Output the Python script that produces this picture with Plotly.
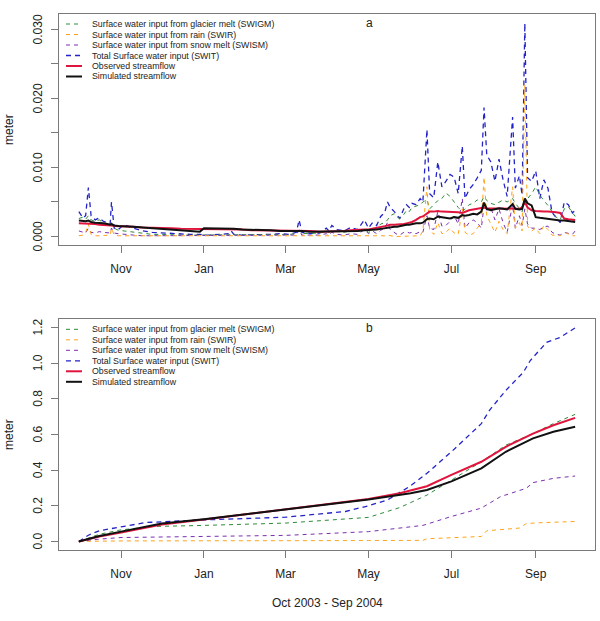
import pandas as pd
import plotly.graph_objects as go

START = pd.Timestamp("2003-10-01")

# ---------------- Panel a: daily values (meter) ----------------
day_top = [0, 3, 5, 7, 9, 12, 15, 18, 21, 23, 24, 26, 29,
           33, 40, 47, 54, 61, 68, 75, 82, 89, 92, 96, 103, 110, 112, 114, 120, 127, 134, 141, 148, 155,
           160, 162, 164, 170, 177, 182, 184, 186, 190, 195, 200, 205, 210,
           213, 216, 219, 222, 225, 227, 229, 232, 234, 236, 239, 241, 243, 245, 248, 251, 253, 256, 258, 261,
           264, 267, 270, 273, 276, 279, 282, 284, 287, 290, 293, 296, 298, 300, 303, 306, 309, 312, 315, 319,
           321, 324, 326, 328, 330, 333, 336, 339, 342, 345, 348, 351, 354, 357, 360, 363, 365]

swit_daily = [0.0036, 0.0027, 0.0030, 0.0071, 0.0030, 0.0024, 0.0027, 0.0022, 0.0020, 0.0018, 0.0050, 0.0012, 0.0010,
              0.0017, 0.0012, 0.0008, 0.0006, 0.0005, 0.0004, 0.0004, 0.0003, 0.0003, 0.0002, 0.0002, 0.0003, 0.0004, 0.0008, 0.0003, 0.0002, 0.0002, 0.0003, 0.0003, 0.0004, 0.0003,
              0.0006, 0.0024, 0.0006, 0.0004, 0.0005, 0.0012, 0.0008, 0.0016, 0.0010, 0.0008, 0.0013, 0.0010, 0.0024,
              0.0012, 0.0020, 0.0016, 0.0029, 0.0035, 0.0050, 0.0042, 0.0036, 0.0030, 0.0026, 0.0040, 0.0046, 0.0042, 0.0048, 0.0046, 0.0055, 0.0050, 0.0155, 0.0062, 0.0056,
              0.0108, 0.0072, 0.0080, 0.0090, 0.0086, 0.0062, 0.0131, 0.0055, 0.0068, 0.0075, 0.0085, 0.0096, 0.0187, 0.0118, 0.0108, 0.0080, 0.0112, 0.0082, 0.0058, 0.0173,
              0.0070, 0.0088, 0.0060, 0.0309, 0.0085, 0.0080, 0.0095, 0.0055, 0.0082, 0.0070, 0.0035, 0.0028, 0.0020, 0.0050, 0.0046, 0.0034, 0.0038]

swigm_daily = [0.0026, 0.0028, 0.0025, 0.0030, 0.0024, 0.0022, 0.0024, 0.0020, 0.0018, 0.0016, 0.0020, 0.0012, 0.0009,
               0.0008, 0.0006, 0.0005, 0.0003, 0.0003, 0.0002, 0.0002, 0.0002, 0.0002, 0.0002, 0.0002, 0.0002, 0.0002, 0.0003, 0.0002, 0.0002, 0.0002, 0.0002, 0.0003, 0.0003, 0.0003,
               0.0004, 0.0008, 0.0004, 0.0004, 0.0005, 0.0007, 0.0006, 0.0008, 0.0007, 0.0006, 0.0008, 0.0007, 0.0010,
               0.0006, 0.0010, 0.0012, 0.0018, 0.0020, 0.0024, 0.0030, 0.0033, 0.0028, 0.0026, 0.0032, 0.0038, 0.0036, 0.0042, 0.0044, 0.0046, 0.0050, 0.0053, 0.0040, 0.0046,
               0.0052, 0.0055, 0.0063, 0.0058, 0.0050, 0.0042, 0.0036, 0.0040, 0.0046, 0.0048, 0.0053, 0.0050, 0.0058, 0.0052, 0.0048, 0.0046, 0.0050, 0.0053, 0.0050, 0.0055,
               0.0048, 0.0040, 0.0036, 0.0050, 0.0055, 0.0062, 0.0072, 0.0060, 0.0052, 0.0045, 0.0036, 0.0028, 0.0024, 0.0040, 0.0043, 0.0035, 0.0029]

swir_daily = [0.0001, 0.0002, 0.0006, 0.0018, 0.0003, 0.0001, 0.0001, 0.0001, 0.0001, 0.0002, 0.0012, 0.0002, 0.0001,
              0.0001, 0.0000, 0.0000, 0.0000, 0.0000, 0.0000, 0.0000, 0.0000, 0.0000, 0.0000, 0.0000, 0.0000, 0.0000, 0.0001, 0.0000, 0.0000, 0.0000, 0.0000, 0.0000, 0.0000, 0.0000,
              0.0000, 0.0001, 0.0000, 0.0000, 0.0000, 0.0001, 0.0000, 0.0001, 0.0000, 0.0000, 0.0001, 0.0000, 0.0001,
              0.0000, 0.0001, 0.0000, 0.0001, 0.0001, 0.0002, 0.0001, 0.0000, 0.0000, 0.0000, 0.0001, 0.0001, 0.0000, 0.0001, 0.0000, 0.0001, 0.0008, 0.0072, 0.0010, 0.0003,
              0.0020, 0.0004, 0.0006, 0.0012, 0.0005, 0.0003, 0.0040, 0.0006, 0.0002, 0.0004, 0.0012, 0.0020, 0.0086, 0.0030, 0.0018, 0.0006, 0.0022, 0.0010, 0.0004, 0.0072,
              0.0012, 0.0020, 0.0008, 0.0220, 0.0015, 0.0008, 0.0012, 0.0004, 0.0016, 0.0010, 0.0002, 0.0001, 0.0001, 0.0006, 0.0003, 0.0001, 0.0001]

swism_daily = [0.0008, 0.0006, 0.0005, 0.0012, 0.0006, 0.0005, 0.0007, 0.0006, 0.0005, 0.0005, 0.0012, 0.0005, 0.0004,
               0.0003, 0.0002, 0.0001, 0.0001, 0.0001, 0.0001, 0.0001, 0.0001, 0.0001, 0.0001, 0.0001, 0.0001, 0.0001, 0.0002, 0.0001, 0.0001, 0.0001, 0.0001, 0.0001, 0.0001, 0.0001,
               0.0002, 0.0010, 0.0002, 0.0002, 0.0002, 0.0004, 0.0002, 0.0006, 0.0003, 0.0002, 0.0004, 0.0003, 0.0010,
               0.0004, 0.0008, 0.0004, 0.0009, 0.0012, 0.0020, 0.0010, 0.0006, 0.0003, 0.0002, 0.0006, 0.0007, 0.0005, 0.0006, 0.0004, 0.0007, 0.0006, 0.0030, 0.0012, 0.0010,
               0.0036, 0.0015, 0.0016, 0.0022, 0.0030, 0.0018, 0.0055, 0.0012, 0.0020, 0.0024, 0.0020, 0.0012, 0.0045, 0.0038, 0.0042, 0.0024, 0.0040, 0.0020, 0.0006, 0.0046,
               0.0012, 0.0030, 0.0016, 0.0040, 0.0018, 0.0012, 0.0012, 0.0010, 0.0014, 0.0015, 0.0006, 0.0003, 0.0002, 0.0006, 0.0005, 0.0003, 0.0008]

obs_daily = [0.0019, 0.0019, 0.0019, 0.0019, 0.0018, 0.0018, 0.0017, 0.0017, 0.0016, 0.0016, 0.0016, 0.0015, 0.0015,
             0.0015, 0.0014, 0.0013, 0.0013, 0.0012, 0.0012, 0.0011, 0.0011, 0.0011, 0.0011, 0.0011, 0.0010, 0.0010, 0.0010, 0.0010, 0.0010, 0.0009, 0.0009, 0.0009, 0.0008, 0.0008,
             0.0008, 0.0008, 0.0008, 0.0008, 0.0007, 0.0007, 0.0007, 0.0008, 0.0008, 0.0008, 0.0009, 0.0010, 0.0010,
             0.0010, 0.0011, 0.0012, 0.0013, 0.0015, 0.0016, 0.0017, 0.0017, 0.0017, 0.0018, 0.0018, 0.0019, 0.0020, 0.0021, 0.0024, 0.0028, 0.0029, 0.0034, 0.0036, 0.0036,
             0.0037, 0.0036, 0.0036, 0.0035, 0.0036, 0.0035, 0.0034, 0.0036, 0.0038, 0.0039, 0.0040, 0.0041, 0.0042, 0.0041, 0.0041, 0.0040, 0.0041, 0.0041, 0.0040, 0.0041,
             0.0040, 0.0040, 0.0042, 0.0050, 0.0042, 0.0038, 0.0037, 0.0036, 0.0036, 0.0036, 0.0036, 0.0035, 0.0034, 0.0026, 0.0025, 0.0025, 0.0024]

sim_daily = [0.0023, 0.0022, 0.0022, 0.0023, 0.0021, 0.0020, 0.0020, 0.0019, 0.0018, 0.0017, 0.0018, 0.0016, 0.0015,
             0.0015, 0.0014, 0.0013, 0.0012, 0.0011, 0.0010, 0.0009, 0.0008, 0.0007, 0.0012, 0.0012, 0.0011, 0.0011, 0.0011, 0.0011, 0.0010, 0.0010, 0.0009, 0.0009, 0.0008, 0.0008,
             0.0008, 0.0009, 0.0008, 0.0007, 0.0007, 0.0007, 0.0007, 0.0007, 0.0007, 0.0007, 0.0008, 0.0008, 0.0009,
             0.0009, 0.0010, 0.0010, 0.0011, 0.0012, 0.0013, 0.0014, 0.0014, 0.0014, 0.0015, 0.0016, 0.0017, 0.0017, 0.0018, 0.0019, 0.0019, 0.0020, 0.0025, 0.0026, 0.0025,
             0.0029, 0.0028, 0.0027, 0.0026, 0.0028, 0.0027, 0.0031, 0.0030, 0.0031, 0.0033, 0.0032, 0.0036, 0.0049, 0.0040, 0.0038, 0.0039, 0.0041, 0.0040, 0.0039, 0.0047,
             0.0040, 0.0039, 0.0040, 0.0055, 0.0048, 0.0045, 0.0028, 0.0027, 0.0026, 0.0025, 0.0025, 0.0024, 0.0023, 0.0023, 0.0022, 0.0022, 0.0021]

# ---------------- Panel b: cumulative values (meter) ----------------
swit_cum_days = [0, 7, 15, 31, 49, 92, 152, 196, 213, 227, 243, 256, 274, 296, 302, 314, 327, 332, 344, 354, 365]
swit_cum = [0, 0.035, 0.06, 0.08, 0.106, 0.121, 0.136, 0.168, 0.2, 0.233, 0.307, 0.382, 0.503, 0.661, 0.736, 0.847, 0.95, 1.015, 1.117, 1.145, 1.198]

swigm_cum_days = [0, 15, 31, 55, 92, 152, 213, 236, 256, 274, 296, 314, 334, 349, 365]
swigm_cum = [0, 0.04, 0.065, 0.084, 0.09, 0.103, 0.135, 0.19, 0.26, 0.345, 0.447, 0.54, 0.605, 0.661, 0.713]

swism_cum_days = [0, 15, 31, 92, 152, 213, 236, 253, 274, 296, 310, 329, 334, 349, 365]
swism_cum = [0, 0.013, 0.022, 0.028, 0.034, 0.055, 0.075, 0.09, 0.14, 0.187, 0.251, 0.298, 0.33, 0.354, 0.367]

swir_cum_days = [0, 31, 213, 253, 256, 274, 296, 300, 324, 329, 336, 365]
swir_cum = [0, 0.003, 0.005, 0.006, 0.015, 0.02, 0.028, 0.06, 0.075, 0.1, 0.104, 0.112]

obs_cum_days = [0, 15, 31, 61, 92, 152, 213, 236, 256, 274, 296, 314, 334, 349, 365]
obs_cum = [0, 0.027, 0.05, 0.095, 0.123, 0.18, 0.238, 0.27, 0.31, 0.373, 0.447, 0.531, 0.605, 0.652, 0.693]

sim_cum_days = [0, 15, 31, 61, 92, 152, 213, 244, 256, 274, 296, 314, 334, 349, 365]
sim_cum = [0, 0.03, 0.055, 0.10, 0.125, 0.18, 0.235, 0.27, 0.289, 0.337, 0.41, 0.503, 0.578, 0.615, 0.643]

# ---------------- Axis text ----------------
month_ticks = ["2003-11-01", "2004-01-01", "2004-03-01", "2004-05-01", "2004-07-01", "2004-09-01"]
month_labels = ["Nov", "Jan", "Mar", "May", "Jul", "Sep"]
ya_vals = [0, 0.005, 0.010, 0.015, 0.020, 0.025, 0.030]
ya_text = ["0.000", "", "0.010", "", "0.020", "", "0.030"]
yb_vals = [0, 0.2, 0.4, 0.6, 0.8, 1.0, 1.2]
yb_text = ["0.0", "0.2", "0.4", "0.6", "0.8", "1.0", "1.2"]

legend_labels = ["Surface water input from glacier melt (SWIGM)",
                 "Surface water input from rain (SWIR)",
                 "Surface water input from snow melt (SWISM)",
                 "Total Surface water input (SWIT)",
                 "Observed streamflow",
                 "Simulated streamflow"]

FONT = "Liberation Sans, Arial, sans-serif"
BOX = "#7a7a7a"
TXT = "#222222"

C_GM = "#2e8b3a"
C_R = "#ffa21a"
C_SM = "#7b2fb0"
C_T = "#2323c8"
C_OBS = "#e0143c"
C_SIM = "#111111"

styles = [  # (color, width, dash) in legend order
    (C_GM, 1, "4px,4px"),
    (C_R, 1, "4px,4px"),
    (C_SM, 1, "4px,4px"),
    (C_T, 1.3, "5px,4px"),
    (C_OBS, 2, "solid"),
    (C_SIM, 2, "solid"),
]


def dates(days):
    return START + pd.to_timedelta(days, unit="D")


fig = go.Figure()

top_map = {0: swigm_daily, 1: swir_daily, 2: swism_daily, 3: swit_daily, 4: obs_daily, 5: sim_daily}
draw_order = [3, 0, 2, 1, 4, 5]
for i in draw_order:
    c, w, d = styles[i]
    fig.add_trace(go.Scatter(x=dates(day_top), y=top_map[i], mode="lines", name=legend_labels[i],
                             line=dict(color=c, width=w, dash=d), showlegend=False,
                             xaxis="x", yaxis="y"))

bot_series = {0: (swigm_cum_days, swigm_cum), 1: (swir_cum_days, swir_cum), 2: (swism_cum_days, swism_cum),
              3: (swit_cum_days, swit_cum), 4: (obs_cum_days, obs_cum), 5: (sim_cum_days, sim_cum)}
for i in draw_order:
    c, w, d = styles[i]
    dd, vv = bot_series[i]
    fig.add_trace(go.Scatter(x=dates(dd), y=vv, mode="lines", name=legend_labels[i],
                             line=dict(color=c, width=w, dash=d), showlegend=False,
                             xaxis="x2", yaxis="y2"))

# x range: data span with 4% padding on each side (R default)
pad = pd.Timedelta(days=365 * 0.04)
xr = [START - pad, START + pd.Timedelta(days=365) + pad]

common_x = dict(type="date", range=xr, tickmode="array", tickvals=month_ticks, ticktext=month_labels,
                ticks="outside", ticklen=7, tickcolor=BOX, showline=True, linecolor=BOX, linewidth=1,
                mirror=True, showgrid=False, zeroline=False,
                tickfont=dict(family=FONT, size=12, color=TXT), ticklabelstandoff=6)
common_y = dict(ticks="outside", ticklen=7, tickcolor=BOX, showline=True, linecolor=BOX, linewidth=1,
                mirror=True, showgrid=False, zeroline=False, tickmode="array", showticklabels=False)

TOP_DOM = [0.569, 1.0]
BOT_DOM = [0.0, 0.431]

fig.update_layout(
    width=600, height=621,
    margin=dict(l=59, r=5, t=14, b=71),
    paper_bgcolor="white", plot_bgcolor="white",
    font=dict(family=FONT, size=12, color=TXT),
    xaxis=dict(common_x, domain=[0, 1], anchor="y"),
    yaxis=dict(common_y, domain=TOP_DOM, anchor="x", range=[-0.00124, 0.03224], tickvals=ya_vals),
    xaxis2=dict(common_x, domain=[0, 1], anchor="y2"),
    yaxis2=dict(common_y, domain=BOT_DOM, anchor="x2", range=[-0.048, 1.248], tickvals=yb_vals),
    showlegend=False,
)

H = 536.0  # plot-area height in px (621 - 14 - 71)


def py(px_from_top):
    return (550.0 - px_from_top) / H


def px_x(px):
    return (px - 59.0) / 536.0


annotations = []
shapes = []
# rotated y tick labels (R style, las=0)
for yref, vals, texts in (("y", ya_vals, ya_text), ("y2", yb_vals, yb_text)):
    for v, t in zip(vals, texts):
        if t:
            annotations.append(dict(text=t, x=px_x(38), y=v, xref="paper", yref=yref, showarrow=False,
                                    textangle=-90, xanchor="center", yanchor="middle",
                                    font=dict(family=FONT, size=12, color=TXT)))
# panel letters
for letter, ytop in (("a", 23.3), ("b", 328.3)):
    annotations.append(dict(text=letter, x=px_x(369), y=py(ytop), xref="paper", yref="paper",
                            showarrow=False, xanchor="center", yanchor="middle",
                            font=dict(family=FONT, size=12, color=TXT)))
# y titles
for ytop in (129.5, 434.5):
    annotations.append(dict(text="meter", x=px_x(8.5), y=py(ytop), xref="paper", yref="paper",
                            showarrow=False, textangle=-90, xanchor="center", yanchor="middle",
                            font=dict(family=FONT, size=12, color=TXT)))
# x title
annotations.append(dict(text="Oct 2003 - Sep 2004", x=px_x(327), y=py(603), xref="paper", yref="paper",
                        showarrow=False, xanchor="center", yanchor="middle",
                        font=dict(family=FONT, size=12, color=TXT)))

# legends (one per panel)
for first_row in (24.0, 329.3):
    for k, lab in enumerate(legend_labels):
        yy = py(first_row + 10.5 * k)
        c, w, d = styles[k]
        shapes.append(dict(type="line", xref="paper", yref="paper", x0=px_x(66), x1=px_x(82), y0=yy, y1=yy,
                           line=dict(color=c, width=w, dash=d)))
        annotations.append(dict(text=lab, x=px_x(90), y=yy, xref="paper", yref="paper", showarrow=False,
                                xanchor="left", yanchor="middle",
                                font=dict(family=FONT, size=8.8, color=TXT)))

fig.update_layout(annotations=annotations, shapes=shapes)

fig.write_html("out.html")
